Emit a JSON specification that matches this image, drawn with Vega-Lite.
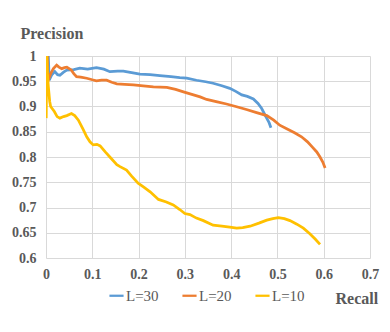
{
  "$schema": "https://vega.github.io/schema/vega-lite/v6.json",
  "width": 324,
  "height": 202,
  "autosize": {"type": "none"},
  "padding": {"left": 46, "top": 56, "right": 20, "bottom": 74},
  "background": "white",
  "config": {
    "view": {"stroke": null},
    "font": "Liberation Serif"
  },
  "data": {
    "values": [
      {"s": "L=30", "r": 0.005, "p": 1.0},
      {"s": "L=30", "r": 0.007, "p": 0.952},
      {"s": "L=30", "r": 0.012, "p": 0.962},
      {"s": "L=30", "r": 0.019, "p": 0.969},
      {"s": "L=30", "r": 0.025, "p": 0.963},
      {"s": "L=30", "r": 0.03, "p": 0.962},
      {"s": "L=30", "r": 0.038, "p": 0.968},
      {"s": "L=30", "r": 0.045, "p": 0.972},
      {"s": "L=30", "r": 0.06, "p": 0.973},
      {"s": "L=30", "r": 0.073, "p": 0.976},
      {"s": "L=30", "r": 0.09, "p": 0.974},
      {"s": "L=30", "r": 0.109, "p": 0.977},
      {"s": "L=30", "r": 0.125, "p": 0.974},
      {"s": "L=30", "r": 0.138, "p": 0.969},
      {"s": "L=30", "r": 0.155, "p": 0.97},
      {"s": "L=30", "r": 0.167, "p": 0.97},
      {"s": "L=30", "r": 0.185, "p": 0.967},
      {"s": "L=30", "r": 0.203, "p": 0.964},
      {"s": "L=30", "r": 0.225, "p": 0.963},
      {"s": "L=30", "r": 0.246, "p": 0.961},
      {"s": "L=30", "r": 0.27, "p": 0.959},
      {"s": "L=30", "r": 0.289, "p": 0.957},
      {"s": "L=30", "r": 0.304, "p": 0.956},
      {"s": "L=30", "r": 0.325, "p": 0.952},
      {"s": "L=30", "r": 0.345, "p": 0.949},
      {"s": "L=30", "r": 0.361, "p": 0.946},
      {"s": "L=30", "r": 0.38, "p": 0.941},
      {"s": "L=30", "r": 0.397, "p": 0.936},
      {"s": "L=30", "r": 0.41, "p": 0.93},
      {"s": "L=30", "r": 0.423, "p": 0.923},
      {"s": "L=30", "r": 0.435, "p": 0.92},
      {"s": "L=30", "r": 0.448, "p": 0.915},
      {"s": "L=30", "r": 0.458, "p": 0.906},
      {"s": "L=30", "r": 0.466, "p": 0.896},
      {"s": "L=30", "r": 0.475, "p": 0.88},
      {"s": "L=30", "r": 0.482, "p": 0.868},
      {"s": "L=30", "r": 0.486, "p": 0.858},
      {"s": "L=20", "r": 0.003, "p": 1.0},
      {"s": "L=20", "r": 0.004, "p": 0.95},
      {"s": "L=20", "r": 0.01, "p": 0.965},
      {"s": "L=20", "r": 0.016, "p": 0.975},
      {"s": "L=20", "r": 0.023, "p": 0.982},
      {"s": "L=20", "r": 0.028, "p": 0.978},
      {"s": "L=20", "r": 0.034, "p": 0.975},
      {"s": "L=20", "r": 0.04, "p": 0.977},
      {"s": "L=20", "r": 0.045, "p": 0.978},
      {"s": "L=20", "r": 0.05, "p": 0.975},
      {"s": "L=20", "r": 0.055, "p": 0.972},
      {"s": "L=20", "r": 0.06, "p": 0.965},
      {"s": "L=20", "r": 0.066, "p": 0.959},
      {"s": "L=20", "r": 0.075, "p": 0.958},
      {"s": "L=20", "r": 0.088, "p": 0.956},
      {"s": "L=20", "r": 0.1, "p": 0.953},
      {"s": "L=20", "r": 0.109, "p": 0.951},
      {"s": "L=20", "r": 0.12, "p": 0.952},
      {"s": "L=20", "r": 0.131, "p": 0.952},
      {"s": "L=20", "r": 0.142, "p": 0.948},
      {"s": "L=20", "r": 0.153, "p": 0.945},
      {"s": "L=20", "r": 0.17, "p": 0.944},
      {"s": "L=20", "r": 0.189, "p": 0.943},
      {"s": "L=20", "r": 0.21, "p": 0.941},
      {"s": "L=20", "r": 0.232, "p": 0.939},
      {"s": "L=20", "r": 0.261, "p": 0.938},
      {"s": "L=20", "r": 0.28, "p": 0.934},
      {"s": "L=20", "r": 0.297, "p": 0.929},
      {"s": "L=20", "r": 0.315, "p": 0.924},
      {"s": "L=20", "r": 0.333, "p": 0.919},
      {"s": "L=20", "r": 0.347, "p": 0.914},
      {"s": "L=20", "r": 0.37, "p": 0.909},
      {"s": "L=20", "r": 0.39, "p": 0.905},
      {"s": "L=20", "r": 0.41, "p": 0.9},
      {"s": "L=20", "r": 0.433, "p": 0.894},
      {"s": "L=20", "r": 0.455, "p": 0.888},
      {"s": "L=20", "r": 0.477, "p": 0.882},
      {"s": "L=20", "r": 0.492, "p": 0.873},
      {"s": "L=20", "r": 0.505, "p": 0.863},
      {"s": "L=20", "r": 0.52, "p": 0.856},
      {"s": "L=20", "r": 0.537, "p": 0.848},
      {"s": "L=20", "r": 0.552, "p": 0.84},
      {"s": "L=20", "r": 0.565, "p": 0.83},
      {"s": "L=20", "r": 0.575, "p": 0.82},
      {"s": "L=20", "r": 0.585, "p": 0.81},
      {"s": "L=20", "r": 0.592, "p": 0.8},
      {"s": "L=20", "r": 0.598, "p": 0.79},
      {"s": "L=20", "r": 0.603, "p": 0.778},
      {"s": "L=10", "r": 0.0005, "p": 0.877},
      {"s": "L=10", "r": 0.0015, "p": 1.0},
      {"s": "L=10", "r": 0.003, "p": 0.965},
      {"s": "L=10", "r": 0.005, "p": 0.94},
      {"s": "L=10", "r": 0.008, "p": 0.91},
      {"s": "L=10", "r": 0.01, "p": 0.9},
      {"s": "L=10", "r": 0.014, "p": 0.895},
      {"s": "L=10", "r": 0.018, "p": 0.89},
      {"s": "L=10", "r": 0.024, "p": 0.88},
      {"s": "L=10", "r": 0.03, "p": 0.877},
      {"s": "L=10", "r": 0.038, "p": 0.88},
      {"s": "L=10", "r": 0.045, "p": 0.882},
      {"s": "L=10", "r": 0.055, "p": 0.886},
      {"s": "L=10", "r": 0.062, "p": 0.882},
      {"s": "L=10", "r": 0.07, "p": 0.873},
      {"s": "L=10", "r": 0.08, "p": 0.855},
      {"s": "L=10", "r": 0.088, "p": 0.84},
      {"s": "L=10", "r": 0.095, "p": 0.83},
      {"s": "L=10", "r": 0.102, "p": 0.824},
      {"s": "L=10", "r": 0.11, "p": 0.825},
      {"s": "L=10", "r": 0.117, "p": 0.822},
      {"s": "L=10", "r": 0.128, "p": 0.81},
      {"s": "L=10", "r": 0.138, "p": 0.8},
      {"s": "L=10", "r": 0.153, "p": 0.785},
      {"s": "L=10", "r": 0.16, "p": 0.781},
      {"s": "L=10", "r": 0.174, "p": 0.774},
      {"s": "L=10", "r": 0.185, "p": 0.762},
      {"s": "L=10", "r": 0.199, "p": 0.748},
      {"s": "L=10", "r": 0.212, "p": 0.74},
      {"s": "L=10", "r": 0.225, "p": 0.731},
      {"s": "L=10", "r": 0.243, "p": 0.716},
      {"s": "L=10", "r": 0.26, "p": 0.711},
      {"s": "L=10", "r": 0.275, "p": 0.705},
      {"s": "L=10", "r": 0.289, "p": 0.696},
      {"s": "L=10", "r": 0.3, "p": 0.688},
      {"s": "L=10", "r": 0.311, "p": 0.686},
      {"s": "L=10", "r": 0.325, "p": 0.679},
      {"s": "L=10", "r": 0.34, "p": 0.674},
      {"s": "L=10", "r": 0.361, "p": 0.665},
      {"s": "L=10", "r": 0.38, "p": 0.663},
      {"s": "L=10", "r": 0.397, "p": 0.661},
      {"s": "L=10", "r": 0.412, "p": 0.659},
      {"s": "L=10", "r": 0.425, "p": 0.66},
      {"s": "L=10", "r": 0.441, "p": 0.663},
      {"s": "L=10", "r": 0.46, "p": 0.669},
      {"s": "L=10", "r": 0.477, "p": 0.675},
      {"s": "L=10", "r": 0.49, "p": 0.678},
      {"s": "L=10", "r": 0.502, "p": 0.68},
      {"s": "L=10", "r": 0.515, "p": 0.678},
      {"s": "L=10", "r": 0.527, "p": 0.674},
      {"s": "L=10", "r": 0.542, "p": 0.667},
      {"s": "L=10", "r": 0.556, "p": 0.659},
      {"s": "L=10", "r": 0.57, "p": 0.648},
      {"s": "L=10", "r": 0.582, "p": 0.637},
      {"s": "L=10", "r": 0.592, "p": 0.627}
    ]
  },
  "mark": {"type": "line", "strokeWidth": 2.75, "clip": true},
  "encoding": {
    "x": {
      "field": "r",
      "type": "quantitative",
      "scale": {"domain": [0, 0.7], "nice": false, "zero": false},
      "axis": {
        "values": [0, 0.1, 0.2, 0.3, 0.4, 0.5, 0.6, 0.7],
        "format": "~g",
        "grid": true,
        "gridColor": "#d9d9d9",
        "gridWidth": 1,
        "domain": false,
        "ticks": false,
        "labelFont": "Liberation Serif",
        "labelFontWeight": "bold",
        "labelFontSize": 14,
        "labelColor": "#595959",
        "labelPadding": 9,
        "labelFlush": false,
        "title": "Recall",
        "titleFont": "Liberation Serif",
        "titleFontWeight": "bold",
        "titleFontSize": 16,
        "titleColor": "#595959",
        "titleAnchor": "start",
        "titleAlign": "left",
        "titleBaseline": "alphabetic",
        "titleX": 289,
        "titleY": 45
      }
    },
    "y": {
      "field": "p",
      "type": "quantitative",
      "scale": {"domain": [0.6, 1], "nice": false, "zero": false},
      "axis": {
        "values": [0.6, 0.65, 0.7, 0.75, 0.8, 0.85, 0.9, 0.95, 1],
        "format": "~g",
        "grid": true,
        "gridColor": "#d9d9d9",
        "gridWidth": 1,
        "domain": false,
        "ticks": false,
        "labelFont": "Liberation Serif",
        "labelFontWeight": "bold",
        "labelFontSize": 14,
        "labelColor": "#595959",
        "labelPadding": 10,
        "labelFlush": false,
        "title": "Precision",
        "titleFont": "Liberation Serif",
        "titleFontWeight": "bold",
        "titleFontSize": 16,
        "titleColor": "#595959",
        "titleAngle": 0,
        "titleAlign": "left",
        "titleBaseline": "alphabetic",
        "titleX": -26,
        "titleY": -18
      }
    },
    "color": {
      "field": "s",
      "type": "nominal",
      "scale": {"domain": ["L=30", "L=20", "L=10"], "range": ["#5B9BD5", "#ED7D31", "#FFC000"]},
      "legend": {
        "title": null,
        "orient": "none",
        "direction": "horizontal",
        "legendX": 62,
        "legendY": 231,
        "symbolType": "stroke",
        "symbolSize": 200,
        "symbolStrokeWidth": 2.25,
        "labelFont": "Liberation Serif",
        "labelFontSize": 15,
        "labelColor": "#595959",
        "labelOffset": 1,
        "columnPadding": 18
      }
    }
  }
}
